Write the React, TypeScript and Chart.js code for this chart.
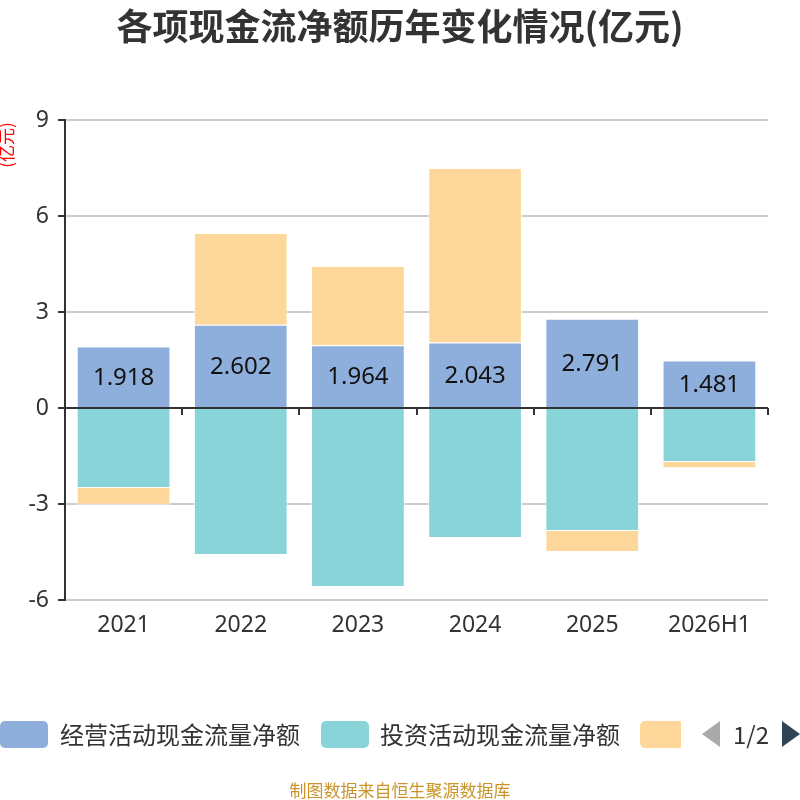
import { useEffect, useRef } from "react";
import { Chart, registerables } from "chart.js";
import type { Plugin } from "chart.js";

Chart.register(...registerables);

const categories = ["2021", "2022", "2023", "2024", "2025", "2026H1"];
const operating = [1.918, 2.602, 1.964, 2.043, 2.791, 1.481];
const investing = [-2.5, -4.59, -5.59, -4.06, -3.84, -1.69];
const financing = [-0.52, 2.87, 2.47, 5.46, -0.66, -0.19];
const seriesNames = ["经营活动现金流量净额", "投资活动现金流量净额", "筹资活动现金流量净额"];
const colors = ["#8eaedb", "#88d4d8", "#fed89a"];
const yTicks = [-6, -3, 0, 3, 6, 9];

const FONT = '"Noto Sans CJK SC", "Noto Sans", sans-serif';
const NUM_FONT = '"Noto Sans", "Noto Sans CJK SC", sans-serif';

const decorPlugin: Plugin<"bar"> = {
	id: "decor",
	beforeDatasetsDraw(chart) {
		const { ctx, chartArea, scales } = chart;
		const x = scales.x;
		const y0 = scales.y.getPixelForValue(0);
		ctx.save();
		ctx.strokeStyle = "#333";
		ctx.lineWidth = 2;
		ctx.beginPath();
		ctx.moveTo(chartArea.left, y0);
		ctx.lineTo(chartArea.right, y0);
		for (let i = 1; i <= categories.length; i++) {
			const px = Math.round((x.getPixelForValue(i - 1) + x.getPixelForValue(i)) / 2);
			const bx = i === categories.length ? chartArea.right : px;
			ctx.moveTo(bx, y0);
			ctx.lineTo(bx, y0 + 7);
		}
		ctx.stroke();
		ctx.restore();
	},
	afterDatasetsDraw(chart) {
		const { ctx } = chart;
		const meta = chart.getDatasetMeta(0);
		ctx.save();
		ctx.fillStyle = "#111";
		ctx.font = `24px ${NUM_FONT}`;
		ctx.textAlign = "center";
		ctx.textBaseline = "middle";
		meta.data.forEach((el, i) => {
			const p = el.getProps(["x", "y", "base"], true) as { x: number; y: number; base: number };
			ctx.fillText(operating[i].toFixed(3), p.x, (p.y + p.base) / 2 + 1);
		});
		ctx.restore();
	},
	afterDraw(chart) {
		const { ctx } = chart;
		ctx.save();
		ctx.fillStyle = "#333";
		ctx.font = `bold 36px ${FONT}`;
		ctx.textAlign = "center";
		ctx.textBaseline = "middle";
		ctx.fillText("各项现金流净额历年变化情况(亿元)", 400, 26);
		ctx.translate(7, 145);
		ctx.rotate(-Math.PI / 2);
		ctx.fillStyle = "#ff0000";
		ctx.font = `17px ${FONT}`;
		ctx.fillText("(亿元)", 0, 0);
		ctx.restore();
	},
};

export default function App() {
	const chartRef = useRef<HTMLCanvasElement>(null);
	const chartInstance = useRef<Chart | null>(null);

	useEffect(() => {
		if (!chartRef.current) return;
		if (chartInstance.current) chartInstance.current.destroy();
		const ctx = chartRef.current.getContext("2d");
		if (!ctx) return;

		chartInstance.current = new Chart(ctx, {
			type: "bar",
			data: {
				labels: categories,
				datasets: [operating, investing, financing].map((d, i) => ({
					label: seriesNames[i],
					data: d,
					backgroundColor: colors[i],
					borderColor: "rgba(255,255,255,0.7)",
					borderWidth: 1,
					barPercentage: 0.8,
					categoryPercentage: 1,
				})),
			},
			options: {
				responsive: false,
				animation: false,
				layout: { padding: { top: 120, right: 32, bottom: 160, left: 0 } },
				plugins: {
					legend: { display: false },
					tooltip: { enabled: false },
				},
				scales: {
					x: {
						stacked: true,
						border: { display: false },
						grid: { display: false },
						ticks: { color: "#333", font: { size: 23, family: NUM_FONT }, padding: 4 },
						afterFit: (scale) => {
							scale.height = 40;
						},
					},
					y: {
						stacked: true,
						min: -6,
						max: 9,
						afterBuildTicks: (scale) => {
							scale.ticks = yTicks.map((v) => ({ value: v }));
						},
						afterFit: (scale) => {
							scale.width = 65;
						},
						border: { color: "#333", width: 2 },
						grid: {
							color: (c) => (c.tick && c.tick.value === 0 ? "rgba(0,0,0,0)" : "#cccccc"),
							tickColor: "#333",
							tickLength: 7,
							lineWidth: 2,
						},
						ticks: { color: "#333", font: { size: 23, family: NUM_FONT }, padding: 9 },
					},
				},
			},
			plugins: [decorPlugin],
		});

		return () => {
			if (chartInstance.current) {
				chartInstance.current.destroy();
				chartInstance.current = null;
			}
		};
	}, []);

	const legendText: React.CSSProperties = {
		position: "absolute",
		top: 734,
		transform: "translateY(-50%)",
		fontSize: 24,
		color: "#333",
		fontFamily: FONT,
		whiteSpace: "nowrap",
		lineHeight: 1,
	};
	const box = (left: number, width: number, color: string): React.CSSProperties => ({
		position: "absolute",
		left,
		top: 721,
		width,
		height: 27,
		background: color,
		borderRadius: width > 45 ? 5 : "5px 0 0 5px",
	});

	return (
		<div style={{ position: "absolute", left: 0, top: 0, width: 800, height: 800, background: "#fff", overflow: "hidden" }}>
			<canvas ref={chartRef} width={800} height={800} />
			<div style={box(0, 48, colors[0])} />
			<div style={{ ...legendText, left: 60 }}>{seriesNames[0]}</div>
			<div style={box(321, 48, colors[1])} />
			<div style={{ ...legendText, left: 380 }}>{seriesNames[1]}</div>
			<div style={box(640, 41, colors[2])} />
			<div
				style={{
					position: "absolute",
					left: 702,
					top: 721,
					width: 0,
					height: 0,
					borderTop: "13px solid transparent",
					borderBottom: "13px solid transparent",
					borderRight: "18px solid #aaaaaa",
				}}
			/>
			<div style={{ ...legendText, left: 733 }}>1/2</div>
			<div
				style={{
					position: "absolute",
					left: 782,
					top: 721,
					width: 0,
					height: 0,
					borderTop: "13px solid transparent",
					borderBottom: "13px solid transparent",
					borderLeft: "18px solid #2f4554",
				}}
			/>
			<div
				style={{
					position: "absolute",
					left: 0,
					width: 800,
					top: 789,
					transform: "translateY(-50%)",
					textAlign: "center",
					fontSize: 17,
					color: "#c9952b",
					fontFamily: FONT,
					lineHeight: 1,
				}}
			>
				制图数据来自恒生聚源数据库
			</div>
		</div>
	);
}
